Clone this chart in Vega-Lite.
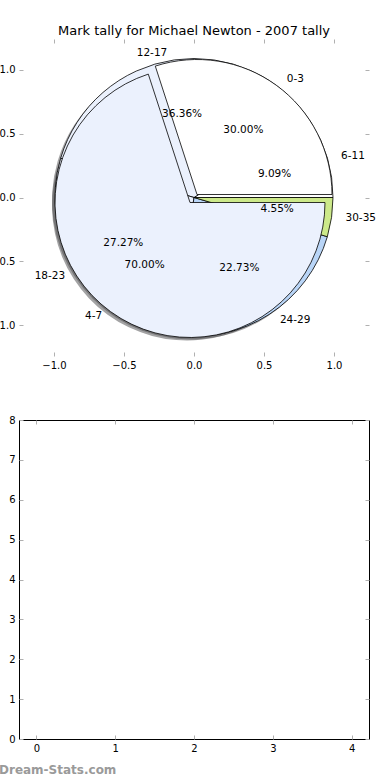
{
  "$schema": "https://vega.github.io/schema/vega-lite/v6.json",
  "padding": {"left": -10, "top": 24, "right": 0, "bottom": 0},
  "datasets": {
    "pie": [
      {"pie": "A", "idx": 1, "label": "0-3", "frac": 0.30},
      {"pie": "A", "idx": 2, "label": "4-7", "frac": 0.70},
      {"pie": "B", "idx": 1, "label": "6-11", "frac": 0.0909},
      {"pie": "B", "idx": 2, "label": "12-17", "frac": 0.3636},
      {"pie": "B", "idx": 3, "label": "18-23", "frac": 0.2727},
      {"pie": "B", "idx": 4, "label": "24-29", "frac": 0.2273},
      {"pie": "B", "idx": 5, "label": "30-35", "frac": 0.0455}
    ],
    "empty": [{"x": 0, "y": 0}]
  },
  "spacing": 64,
  "bounds": "flush",
  "config": {
    "font": "DejaVu Sans",
    "view": {"stroke": null},
    "axis": {
      "domain": false,
      "grid": false,
      "tickColor": "#b0b0b0",
      "tickSize": -4,
      "tickWidth": 1,
      "labelFontSize": 10,
      "labelColor": "black",
      "labelPadding": 8,
      "labelFlush": false,
      "labelOverlap": false,
      "labelBound": false
    }
  },
  "vconcat": [
    {
      "width": 350,
      "height": 317,
      "title": {"text": "Mark tally for Michael Newton - 2007 tally", "fontSize": 13, "fontWeight": "normal", "font": "DejaVu Sans", "baseline": "bottom", "offset": -12, "color": "black"},
      "data": {"name": "pie"},
      "transform": [
        {"stack": "frac", "groupby": ["pie"], "sort": [{"field": "idx", "order": "ascending"}], "as": ["s", "e"]},
        {"calculate": "(datum.s + datum.e) / 2", "as": "mid"}
      ],
      "layer": [
        {
          "mark": {"type": "point", "opacity": 0},
          "encoding": {
            "x": {"datum": 0, "type": "quantitative", "scale": {"domain": [-1.25, 1.25], "nice": false, "zero": false}, "axis": {"orient": "bottom", "values": [-1, -0.5, 0, 0.5, 1], "format": ".1f", "title": null}},
            "y": {"datum": 0, "type": "quantitative", "scale": {"domain": [-1.24, 1.24], "nice": false, "zero": false}, "axis": {"orient": "left", "values": [-1, -0.5, 0, 0.5, 1], "format": ".1f", "title": null}}
          }
        },
        {
          "mark": {"type": "point", "opacity": 0},
          "encoding": {
            "x": {"datum": 0, "type": "quantitative", "axis": {"orient": "top", "values": [-1, -0.5, 0, 0.5, 1], "labels": false, "title": null}},
            "y": {"datum": 0, "type": "quantitative", "axis": {"orient": "right", "values": [-1, -0.5, 0, 0.5, 1], "labels": false, "title": null}}
          }
        },
        {
          "transform": [{"filter": "datum.pie == 'B'"}],
          "mark": {"type": "arc", "outerRadius": 139, "fill": "#474849", "opacity": 0.5, "xOffset": -3, "yOffset": 3},
          "encoding": {
            "theta": {"field": "s", "type": "quantitative", "scale": {"domain": [0, 1], "range": [1.5707963, -4.712389]}},
            "theta2": {"field": "e"}
          }
        },
        {
          "transform": [{"filter": "datum.label == '0-3'"}],
          "mark": {"type": "arc", "outerRadius": 135, "fill": "#474849", "opacity": 0.5, "xOffset": 0, "yOffset": 0},
          "encoding": {
            "theta": {"field": "s", "type": "quantitative", "scale": {"domain": [0, 1], "range": [1.5707963, -4.712389]}},
            "theta2": {"field": "e"}
          }
        },
        {
          "transform": [{"filter": "datum.label == '4-7'"}],
          "mark": {"type": "arc", "outerRadius": 135, "fill": "#474849", "opacity": 0.5, "xOffset": -7, "yOffset": 8},
          "encoding": {
            "theta": {"field": "s", "type": "quantitative", "scale": {"domain": [0, 1], "range": [1.5707963, -4.712389]}},
            "theta2": {"field": "e"}
          }
        },
        {
          "transform": [{"filter": "datum.pie == 'B'"}],
          "mark": {"type": "arc", "outerRadius": 139, "stroke": "black", "strokeWidth": 0.8},
          "encoding": {
            "theta": {"field": "s", "type": "quantitative", "scale": {"domain": [0, 1], "range": [1.5707963, -4.712389]}},
            "theta2": {"field": "e"},
            "color": {"field": "label", "type": "nominal", "legend": null, "scale": {"domain": ["0-3", "4-7", "6-11", "12-17", "18-23", "24-29", "30-35"], "range": ["#ffffff", "#ebf1fd", "#ffffff", "#ebf1fd", "#ebf1fd", "#b9d5f7", "#cce98a"]}}
          }
        },
        {
          "transform": [{"filter": "datum.label == '0-3'"}],
          "mark": {"type": "arc", "outerRadius": 135, "stroke": "black", "strokeWidth": 0.8, "xOffset": 3, "yOffset": -3},
          "encoding": {
            "theta": {"field": "s", "type": "quantitative", "scale": {"domain": [0, 1], "range": [1.5707963, -4.712389]}},
            "theta2": {"field": "e"},
            "color": {"field": "label", "type": "nominal", "legend": null}
          }
        },
        {
          "transform": [{"filter": "datum.label == '4-7'"}],
          "mark": {"type": "arc", "outerRadius": 135, "stroke": "black", "strokeWidth": 0.8, "xOffset": -4, "yOffset": 5},
          "encoding": {
            "theta": {"field": "s", "type": "quantitative", "scale": {"domain": [0, 1], "range": [1.5707963, -4.712389]}},
            "theta2": {"field": "e"},
            "color": {"field": "label", "type": "nominal", "legend": null}
          }
        },
        {
          "transform": [{"filter": "indexof(['0-3', '6-11', '24-29', '30-35'], datum.label) >= 0"}],
          "mark": {"type": "text", "radius": 146, "align": "left", "baseline": "middle", "fontSize": 10.5, "color": "black", "xOffset": 7},
          "encoding": {
            "theta": {"field": "mid", "type": "quantitative", "scale": {"domain": [0, 1], "range": [1.5707963, -4.712389]}},
            "text": {"field": "label", "type": "nominal"}
          }
        },
        {
          "transform": [{"filter": "indexof(['4-7', '12-17', '18-23'], datum.label) >= 0"}],
          "mark": {"type": "text", "radius": 146, "align": "right", "baseline": "middle", "fontSize": 10.5, "color": "black", "xOffset": -6},
          "encoding": {
            "theta": {"field": "mid", "type": "quantitative", "scale": {"domain": [0, 1], "range": [1.5707963, -4.712389]}},
            "text": {"field": "label", "type": "nominal"}
          }
        },
        {
          "mark": {"type": "text", "radius": 84, "align": "center", "baseline": "middle", "fontSize": 10.5, "color": "black"},
          "encoding": {
            "theta": {"field": "mid", "type": "quantitative", "scale": {"domain": [0, 1], "range": [1.5707963, -4.712389]}},
            "text": {"field": "frac", "type": "quantitative", "format": ".2%"}
          }
        }
      ],
      "resolve": {"axis": {"x": "independent", "y": "independent"}}
    },
    {
      "width": 350,
      "height": 319,
      "view": {"stroke": "black", "strokeWidth": 1},
      "title": {"text": "Dream-Stats.com", "orient": "bottom", "anchor": "start", "frame": "group", "dx": -20, "offset": 12, "fontSize": 12, "fontWeight": "bold", "font": "DejaVu Sans", "color": "#9a9a9a"},
      "data": {"name": "empty"},
      "layer": [
        {
          "mark": {"type": "point", "opacity": 0},
          "encoding": {
            "x": {"field": "x", "type": "quantitative", "scale": {"domain": [-0.22, 4.22], "nice": false, "zero": false}, "axis": {"orient": "bottom", "values": [0, 1, 2, 3, 4], "format": "d", "title": null}},
            "y": {"field": "y", "type": "quantitative", "scale": {"domain": [0, 8], "nice": false}, "axis": {"orient": "left", "values": [0, 1, 2, 3, 4, 5, 6, 7, 8], "format": "d", "title": null}}
          }
        },
        {
          "mark": {"type": "point", "opacity": 0},
          "encoding": {
            "x": {"field": "x", "type": "quantitative", "axis": {"orient": "top", "values": [0, 1, 2, 3, 4], "labels": false, "title": null}},
            "y": {"field": "y", "type": "quantitative", "axis": {"orient": "right", "values": [0, 1, 2, 3, 4, 5, 6, 7, 8], "labels": false, "title": null}}
          }
        }
      ],
      "resolve": {"axis": {"x": "independent", "y": "independent"}}
    }
  ]
}
